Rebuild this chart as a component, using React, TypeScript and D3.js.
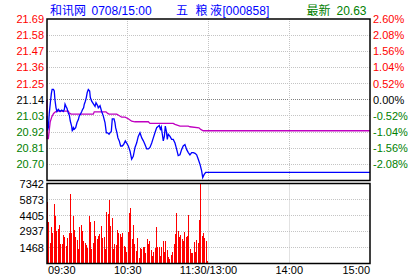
import React from "react";
import * as d3 from "d3";

const W = 420;
const H = 280;

// price axis tick labels (left) and percent labels (right)
const priceTicks = [21.69, 21.58, 21.47, 21.36, 21.25, 21.14, 21.03, 20.92, 20.81, 20.7];
const pctTicks = ["2.60%", "2.08%", "1.56%", "1.04%", "0.52%", "0.00%", "-0.52%", "-1.04%", "-1.56%", "-2.08%"];
const prevClose = 21.14;
const priceMin = 20.59;
const priceMax = 21.69;

const volTicks = [7342, 5873, 4405, 2937, 1468];
const volMax = 7342;

const timeLabels = ["09:30", "10:30", "11:30/13:00", "14:00", "15:00"];
const timeLabelMinutes = [0, 60, 120, 180, 240];
const gridMinutes = [60, 120, 180];

// price series (minute from 09:30, price)
const priceMinutes = [
  0, 0.3, 1.0, 1.7, 2.5, 3.2, 3.8, 4.8, 5.4, 5.9, 6.7, 7.4, 8.4, 9.7, 10.9, 12.1, 12.9, 13.4, 14.1, 14.9,
  15.8, 16.6, 17.3, 18.3, 18.8, 19.6, 20.3, 21.3, 22.3, 23.3, 24.0, 24.8, 25.8, 26.5, 27.2, 27.7, 28.5, 29.2,
  29.9, 30.7, 31.7, 32.2, 33.2, 33.9, 34.6, 35.7, 36.4, 37.6, 38.1, 39.4, 40.6, 41.8, 43.1, 44.1, 45.1, 46.1,
  46.8, 47.8, 48.5, 49.8, 50.5, 51.0, 52.0, 52.7, 53.7, 54.7, 55.9, 56.9, 58.2, 59.2, 60.4, 61.7, 62.9, 64.1,
  65.4, 66.6, 67.8, 69.1, 70.4, 71.6, 72.8, 74.1, 75.3, 76.5, 77.8, 79.0, 80.2, 81.5, 82.7, 83.4, 84.2, 84.9,
  85.7, 86.4, 87.2, 87.9, 88.7, 89.4, 90.1, 91.4, 92.6, 93.8, 95.1, 96.4, 97.5, 98.8, 100.0, 101.2, 102.5,
  103.8, 105.0, 106.2, 107.5, 108.7, 110.0, 111.2, 112.4, 113.7, 114.9, 115.7, 116.7, 117.9,
];
const prices = [
  21.03, 20.93, 20.95, 21.05, 21.12, 21.18, 21.21, 21.21, 21.2, 21.14, 21.085, 21.06, 21.075, 21.06, 21.07,
  21.06, 21.075, 21.11, 21.095, 21.08, 21.05, 21.035, 20.995, 20.96, 20.925, 20.95, 20.94, 20.95, 20.985,
  21.005, 21.03, 21.04, 21.06, 21.075, 21.085, 21.11, 21.13, 21.155, 21.19, 21.21, 21.2, 21.155, 21.13,
  21.12, 21.11, 21.095, 21.12, 21.1, 21.085, 21.1, 21.06, 21.03, 20.985, 20.915, 20.915, 20.905, 20.915,
  20.925, 21.01, 21.01, 20.985, 20.95, 20.915, 20.88, 20.86, 20.825, 20.825, 20.835, 20.86, 20.845, 20.825,
  20.79, 20.735, 20.755, 20.815, 20.845, 20.89, 20.915, 20.88, 20.86, 20.835, 20.805, 20.805, 20.815, 20.845,
  20.88, 20.915, 20.95, 20.96, 20.965, 20.94, 20.955, 20.905, 20.86, 20.89, 20.96, 20.925, 20.87, 20.905,
  20.89, 20.87, 20.87, 20.845, 20.8, 20.76, 20.765, 20.8, 20.825, 20.835, 20.8, 20.78, 20.765, 20.78, 20.78,
  20.775, 20.765, 20.735, 20.7, 20.655, 20.61, 20.63, 20.645,
];

// average price series
const avgMinutes = [
  0, 0.05, 1.0, 1.7, 2.4, 3.6, 4.9, 6.1, 7.0, 15.8, 16.6, 17.9, 34.4, 35.1, 43.8, 45.1, 46.1, 51.8, 53.5,
  55.5, 58.0, 60.4, 62.9, 65.4, 75.3, 76.5, 93.8, 95.1, 98.8, 105.0, 106.2, 112.9, 114.2, 116.1,
];
const avgPrices = [
  21.14, 20.875, 20.875, 20.935, 20.99, 21.025, 21.047, 21.056, 21.062, 21.062, 21.05, 21.042, 21.042,
  21.058, 21.058, 21.047, 21.042, 21.042, 21.033, 21.021, 21.021, 21.011, 20.994, 20.99, 20.99, 20.979,
  20.979, 20.972, 20.96, 20.96, 20.956, 20.949, 20.938, 20.929,
];

// per-minute volume
const volumes = [
  5630, 3794, 1897, 3335, 2815, 5447, 4345, 2968, 3152, 3519, 1775, 1775, 2601, 2448, 1591, 2326, 2754,
  6365, 2754, 4345, 3060, 2448, 2142, 1346, 3366, 3519, 2968, 2050, 1836, 1683, 1408, 4345, 3794, 1316,
  1867, 3886, 2509, 2234, 2509, 2693, 3427, 2326, 2417, 1316, 4712, 4529, 5814, 3427, 4162, 1316, 1775,
  1683, 3060, 2785, 2693, 2417, 2785, 1591, 1500, 1040, 2876, 4620,
  5080, 2234, 3519, 1775, 1132, 2326, 490, 1408, 1316, 1500, 1500, 950, 2234, 1775, 2050, 1224, 673, 1040,
  1408, 3335, 1500, 1500, 673, 1500, 2050, 1040, 2050, 1224, 581, 398, 765, 1040, 1775, 2693, 4620, 2968,
  2417, 2601, 2234, 2050, 2876, 2417, 2509, 4437, 1316, 950, 950, 1958, 1040, 2142, 1867, 3978, 7342, 2509,
  2785, 2326, 2050, 214,
];

const FONT = "'Liberation Sans', Arial, 'Noto Sans CJK SC', sans-serif";
const RED = "#ff0000";
const GREEN = "#008000";
const BLUE = "#0000ff";
const MAGENTA = "#c000c0";

export default function App() {
  const x = d3.scaleLinear().domain([0, 240]).range([47, 370]);
  const y = d3.scaleLinear().domain([priceMin, priceMax]).range([180.5, 19]);
  const yv = d3.scaleLinear().domain([0, volMax]).range([263.5, 183.5]);

  const crisp = (v: number) => Math.floor(v) + 0.5;

  const line = d3
    .line<[number, number]>()
    .x((d) => x(d[0]))
    .y((d) => y(d[1]));

  const pricePts: [number, number][] = priceMinutes.map((m, i) => [m, prices[i]]);
  const avgPts: [number, number][] = avgMinutes.map((m, i) => [m, avgPrices[i]]);
  const lastPrice = prices[prices.length - 1];
  const lastAvg = avgPrices[avgPrices.length - 1];
  const endMin = x.domain()[1];

  const labelColor = (v: number) => (v > prevClose + 1e-9 ? RED : v < prevClose - 1e-9 ? GREEN : "#000");

  return (
    <svg
      width={W}
      height={H}
      style={{ position: "absolute", left: 0, top: 0, background: "#fff" }}
      fontFamily={FONT}
    >
      <rect x={0} y={0} width={W} height={H} fill="#fff" />

      {/* title */}
      <g fontSize={12}>
        <text x={50} y={14.5} fill={BLUE}>和讯网</text>
        <text x={91.5} y={14.5} fill={BLUE}>0708/15:00</text>
        <text x={176} y={14.5} fill={BLUE}>五</text>
        <text x={195.5} y={14.5} fill={BLUE}>粮</text>
        <text x={210} y={14.5} fill={BLUE}>液</text>
        <text x={222.5} y={14.5} fill={BLUE}>[000858]</text>
        <text x={306.5} y={14.5} fill={GREEN}>最新</text>
        <text x={336.5} y={14.5} fill={GREEN}>20.63</text>
      </g>

      {/* price grid */}
      {priceTicks.slice(1).map((v) => (
        <line
          key={"pg" + v}
          x1={x(0)}
          x2={x(240)}
          y1={crisp(y(v))}
          y2={crisp(y(v))}
          stroke={Math.abs(v - prevClose) < 1e-9 ? "#808080" : "#c4c4c4"}
          strokeDasharray="1,1"
        />
      ))}
      {gridMinutes.map((m) => (
        <line
          key={"vg" + m}
          x1={crisp(x(m))}
          x2={crisp(x(m))}
          y1={y(priceMax)}
          y2={y(priceMin)}
          stroke="#c4c4c4"
          strokeDasharray="1,1"
        />
      ))}

      {/* volume grid */}
      {volTicks.slice(1).map((v) => (
        <line
          key={"vgh" + v}
          x1={x(0)}
          x2={x(240)}
          y1={crisp(yv(v))}
          y2={crisp(yv(v))}
          stroke="#c4c4c4"
          strokeDasharray="1,1"
        />
      ))}
      {gridMinutes.map((m) => (
        <line
          key={"vgv" + m}
          x1={crisp(x(m))}
          x2={crisp(x(m))}
          y1={yv(volMax)}
          y2={yv(0)}
          stroke="#c4c4c4"
          strokeDasharray="1,1"
        />
      ))}

      {/* volume bars */}
      <g shapeRendering="crispEdges">
        {volumes.map((v, i) => (
          <rect
            key={"b" + i}
            x={Math.round(x(i))}
            width={1}
            y={yv(v)}
            height={yv(0) - yv(v)}
            fill={RED}
          />
        ))}
      </g>

      {/* average and price lines */}
      <path
        d={line([...avgPts, [endMin, lastAvg]]) || ""}
        fill="none"
        stroke={MAGENTA}
        strokeWidth={1.3}
      />
      <path
        d={line([...pricePts, [endMin, lastPrice]]) || ""}
        fill="none"
        stroke={BLUE}
        strokeWidth={1.3}
      />

      {/* frames */}
      <rect
        x={x(0)}
        y={y(priceMax)}
        width={x(240) - x(0)}
        height={y(priceMin) - y(priceMax)}
        fill="none"
        stroke="#000"
        strokeWidth={1.5}
      />
      <rect
        x={x(0)}
        y={yv(volMax)}
        width={x(240) - x(0)}
        height={yv(0) - yv(volMax)}
        fill="none"
        stroke="#000"
        strokeWidth={1.5}
      />

      {/* axis labels */}
      <g fontSize={11}>
        {priceTicks.map((v) => (
          <text key={"pl" + v} x={44} y={y(v) + 4} textAnchor="end" fill={labelColor(v)}>
            {v.toFixed(2)}
          </text>
        ))}
        {priceTicks.map((v, i) => (
          <text key={"pr" + v} x={373} y={y(v) + 4} textAnchor="start" fill={labelColor(v)}>
            {pctTicks[i]}
          </text>
        ))}
        {volTicks.map((v) => (
          <text key={"vl" + v} x={44} y={yv(v) + 4} textAnchor="end" fill="#000">
            {v}
          </text>
        ))}
        {timeLabels.map((t, i) => (
          <text
            key={"t" + t}
            x={i === 0 ? x(timeLabelMinutes[i]) + 1 : x(timeLabelMinutes[i])}
            y={274}
            textAnchor={i === 0 ? "start" : i === timeLabels.length - 1 ? "end" : "middle"}
            fill="#000"
          >
            {t}
          </text>
        ))}
      </g>
    </svg>
  );
}
